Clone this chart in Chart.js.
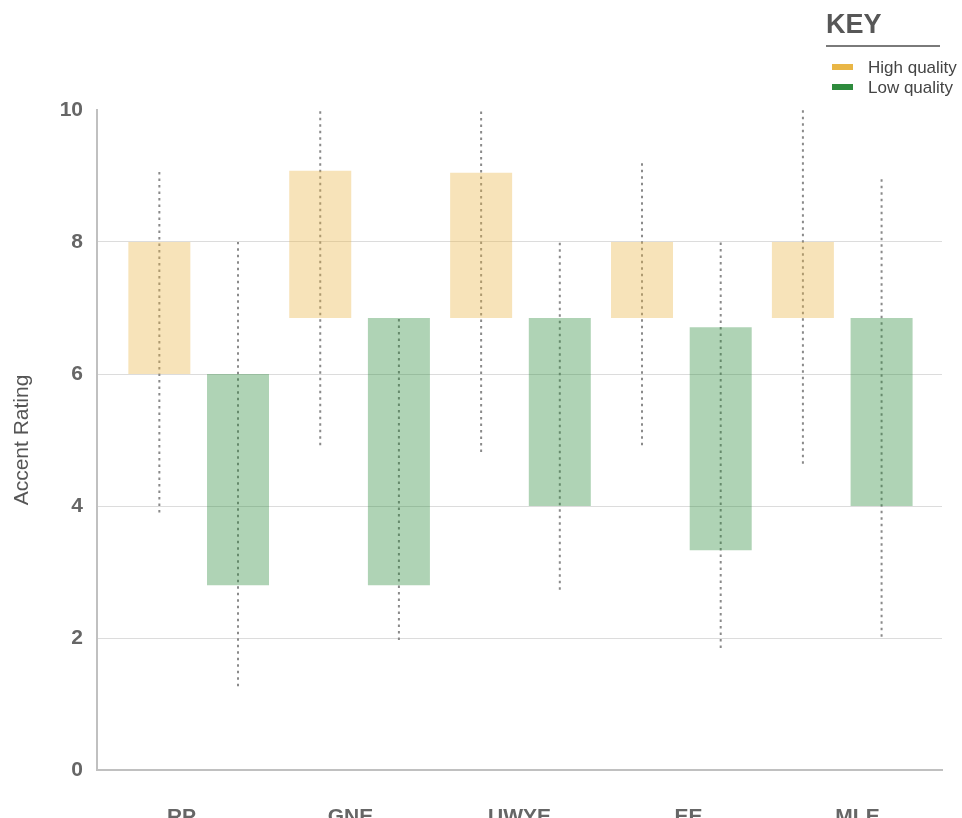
<!DOCTYPE html>
<html>
<head>
<meta charset="utf-8">
<script src="https://cdn.jsdelivr.net/npm/chart.js@4.4.1/dist/chart.umd.min.js"></script>
<style>
  html, body { margin: 0; padding: 0; background: #fff; }
  #wrap { position: relative; width: 962px; height: 818px; overflow: hidden; font-family: "Liberation Sans", Arial, sans-serif; }
  #wrap canvas { position: absolute; left: 0; top: 0; }
  .key-title { position: absolute; left: 826px; top: 11px; font-size: 27px; line-height: 27px; font-weight: bold; color: #575757; }
  .key-rule { position: absolute; left: 826px; top: 45px; width: 114px; height: 2px; background: #7a7a7a; }
  .key-sw { position: absolute; left: 832px; width: 21px; height: 6px; }
  .key-tx { position: absolute; left: 868px; font-size: 17px; line-height: 17px; color: #444; white-space: nowrap; }
</style>
</head>
<body>
<div id="wrap">
  <canvas id="c" width="962" height="818"></canvas>
  <div id="key"></div>
</div>
<script>
// ---- data ----
const categories = ['RP', 'GNE', 'UWYE', 'EE', 'MLE'];
const seriesNames = ['High quality', 'Low quality'];
const highBoxLow  = [6.0, 6.85, 6.85, 6.85, 6.85];
const highBoxHigh = [8.0, 9.08, 9.05, 8.0, 8.0];
const lowBoxLow   = [2.8, 2.8, 4.0, 3.33, 4.0];
const lowBoxHigh  = [6.0, 6.85, 6.85, 6.71, 6.85];
const highWhiskerLow  = [3.9, 4.92, 4.82, 4.92, 4.64];
const highWhiskerHigh = [9.07, 10.0, 10.0, 9.24, 10.0];
const lowWhiskerLow   = [1.27, 1.97, 2.73, 1.85, 2.02];
const lowWhiskerHigh  = [8.0, 6.85, 8.0, 8.0, 8.95];
const yTicks = [0, 2, 4, 6, 8, 10];

// ---- styling ----
const highColor = '#e9b646';
const lowColor = '#2e8b3d';
const boxAlpha = 0.38;
const categoryPct = 0.978;
const barPct = 0.788;
const whiskerOffset = categoryPct / 4;

function rgba(hex, a) {
  const n = parseInt(hex.slice(1), 16);
  return `rgba(${(n >> 16) & 255},${(n >> 8) & 255},${n & 255},${a})`;
}

function boxData(lo, hi) {
  return categories.map((c, i) => ({ x: i, y: [lo[i], hi[i]] }));
}
function whiskerData(lo, hi, shift) {
  const pts = [];
  categories.forEach((c, i) => {
    pts.push({ x: i + shift, y: lo[i] });
    pts.push({ x: i + shift, y: hi[i] });
    pts.push({ x: i + shift, y: null });
  });
  return pts;
}

Chart.defaults.font.family = '"Liberation Sans", Arial, sans-serif';

const whiskerStyle = {
  type: 'line',
  xAxisID: 'xb',
  borderColor: '#8a8a8a',
  borderWidth: 2,
  borderDash: [2.5, 4],
  borderCapStyle: 'butt',
  pointRadius: 0,
  pointHoverRadius: 0,
  tension: 0,
  fill: false,
  spanGaps: false,
  order: 2
};

new Chart(document.getElementById('c'), {
  type: 'bar',
  data: {
    labels: categories,
    datasets: [
      Object.assign({}, whiskerStyle, { label: 'hw', data: whiskerData(highWhiskerLow, highWhiskerHigh, -whiskerOffset) }),
      Object.assign({}, whiskerStyle, { label: 'lw', data: whiskerData(lowWhiskerLow, lowWhiskerHigh, whiskerOffset) }),
      {
        type: 'bar', label: seriesNames[0], xAxisID: 'xb',
        data: boxData(highBoxLow, highBoxHigh),
        backgroundColor: rgba(highColor, boxAlpha), borderWidth: 0,
        categoryPercentage: categoryPct, barPercentage: barPct, order: 1
      },
      {
        type: 'bar', label: seriesNames[1], xAxisID: 'xb',
        data: boxData(lowBoxLow, lowBoxHigh),
        backgroundColor: rgba(lowColor, boxAlpha), borderWidth: 0,
        categoryPercentage: categoryPct, barPercentage: barPct, order: 1
      }
    ]
  },
  options: {
    responsive: false,
    animation: false,
    events: [],
    layout: { padding: { top: 110, right: 20, bottom: 0, left: 0 } },
    plugins: { legend: { display: false }, tooltip: { enabled: false } },
    scales: {
      xb: {
        type: 'linear', display: false, min: -0.632, max: 4.62, offset: false,
        afterBuildTicks: s => { s.ticks = categories.map((c, i) => ({ value: i })); }
      },
      x: {
        type: 'category', position: 'bottom', offset: true,
        grid: { display: false },
        border: { color: '#c0c0c0', width: 2 },
        ticks: { font: { size: 21, weight: 'bold' }, color: '#666', padding: 27, maxRotation: 0 },
        afterFit: s => { s.height = 48; }
      },
      y: {
        type: 'linear', min: 0, max: 10,
        afterBuildTicks: s => { s.ticks = yTicks.map(v => ({ value: v })); },
        ticks: { font: { size: 21, weight: 'bold' }, color: '#666', padding: 14 },
        grid: {
          drawTicks: false,
          color: c => (c.tick && c.tick.value === 10) ? 'rgba(0,0,0,0)' : '#dcdcdc',
          lineWidth: 1
        },
        border: { color: '#c0c0c0', width: 2 },
        title: { display: true, text: 'Accent Rating', font: { size: 21 }, color: '#555', padding: { top: 10, bottom: 0 } },
        afterFit: s => { s.width = 97; }
      }
    }
  }
});

// ---- key ----
const key = document.getElementById('key');
key.innerHTML = '<div class="key-title">KEY</div><div class="key-rule"></div>';
[highColor, lowColor].forEach((col, i) => {
  const sw = document.createElement('div');
  sw.className = 'key-sw';
  sw.style.top = (64 + i * 19.5) + 'px';
  sw.style.background = col;
  key.appendChild(sw);
  const tx = document.createElement('div');
  tx.className = 'key-tx';
  tx.style.top = (58.6 + i * 20) + 'px';
  tx.textContent = seriesNames[i];
  key.appendChild(tx);
});
</script>
</body>
</html>
